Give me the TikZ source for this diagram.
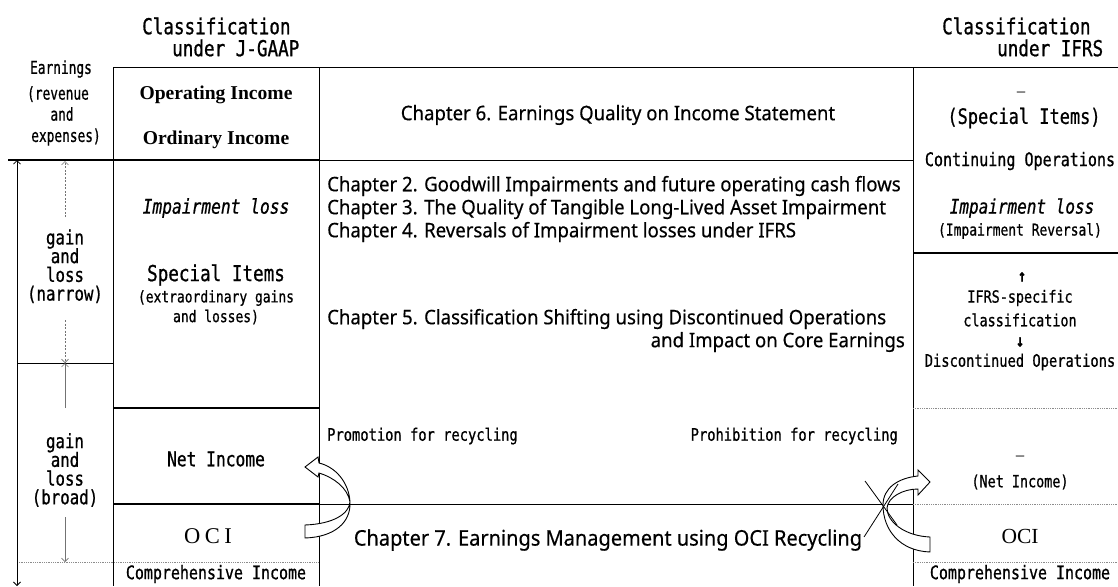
\documentclass[tikz,border=0pt]{standalone}
\usepackage{fontspec}
\usetikzlibrary{arrows.meta}
\setmainfont{Liberation Serif}
\newfontfamily\gothic[FakeStretch=0.8,FakeBold=0.8]{DejaVu Sans Mono}
\newfontfamily\gothicnarrow[FakeStretch=0.72,FakeBold=0.8]{DejaVu Sans Mono}
\newfontfamily\chapfont[FakeStretch=0.93,FakeBold=0.4]{Noto Sans}
\newcommand\gsz[1]{\fontsize{#1}{#1}\selectfont}

\begin{document}
\begin{tikzpicture}[x=1pt,y=-1pt,
  rule/.style={line width=0.8pt},
  heavyrule/.style={line width=2.6pt},
  faintrule/.style={line width=0.8pt, black!45, densely dotted},
  guide/.style={line width=0.7pt, black!55},
  guidedash/.style={guide, dash pattern=on 2pt off 1.5pt},
  barb/.style={-{Straight Barb[length=3.5pt,width=7pt]}},
  barbs/.style={{Straight Barb[length=3.5pt,width=7pt]}-{Straight Barb[length=3.5pt,width=7pt]}},
  lbl/.style={inner sep=0pt, align=center},
  chap/.style={inner sep=0pt, font=\chapfont\gsz{20}},
  ribbon/.style={line width=0.9pt, fill=white, line join=miter},
]
\useasboundingbox (0,0) rectangle (1118,586);

% ---------- column headings ----------
\node[lbl, anchor=west, font=\gothic\gsz{22}] (jgaap1) at (142,26) {Classification};
\node[lbl, anchor=west, font=\gothic\gsz{22}] (jgaap2) at (172,48) {under J-GAAP};
\node[lbl, anchor=west, font=\gothic\gsz{22}] (ifrs1) at (942,26) {Classification};
\node[lbl, anchor=west, font=\gothic\gsz{22}] (ifrs2) at (997,48) {under IFRS};

% ---------- grid ----------
\draw[rule] (113,67) -- (1118,67);
\draw[rule] (113,67) -- (113,586);
\draw[rule] (319,67) -- (319,586);
\draw[rule] (913,67) -- (913,586);
\draw[heavyrule] (8,160) -- (319,160);
\draw[rule] (319,160) -- (913,160);
\draw[heavyrule] (913,253) -- (1118,253);
\draw[rule] (17,363) -- (113,363);
\draw[heavyrule] (113,408) -- (319,408);
\draw[faintrule] (913,408) -- (1118,408);
\draw[heavyrule] (113,504) -- (319,504);
\draw[rule] (319,504) -- (913,504);
\draw[faintrule] (913,504) -- (1118,504);
\draw[faintrule] (17,562) -- (319,562);
\draw[faintrule] (913,562) -- (1118,562);

% ---------- range arrows of the left margin ----------
\coordinate (topL) at (17,160);
\coordinate (botL) at (17,586);
\draw[rule, barbs] (topL) -- (botL);
\coordinate (n1) at (65,161);
\coordinate (n2) at (65,217);
\coordinate (n3) at (65,320);
\coordinate (n4) at (65,363);
\coordinate (b1) at (65,363);
\coordinate (b2) at (65,408);
\coordinate (b3) at (65,517);
\coordinate (b4) at (65,562);
\draw[guidedash, barb] (n2) -- (n1);
\draw[guidedash, barb] (n3) -- (n4);
\draw[guide, barb] (b2) -- (b1);
\draw[guide, barb] (b3) -- (b4);

\node[lbl, font=\gothicnarrow\gsz{17.8}] (earn1) at (61,69) {Earnings};
\node[lbl, font=\gothicnarrow\gsz{17.8}] (earn2) at (58,94) {(revenue};
\node[lbl, font=\gothicnarrow\gsz{17.8}] (earn3) at (62,114) {and};
\node[lbl, font=\gothicnarrow\gsz{17.8}] (earn4) at (66,137) {expenses)};

\node[lbl, font=\gothic\gsz{19.7}, text depth=0pt] (narrow) at (65,265)
  {gain\\[-1pt]and\\[-1pt]loss\\[-1pt](narrow)};
\node[lbl, font=\gothic\gsz{19.7}] (broad) at (65,470)
  {gain\\[-1pt]and\\[-1pt]loss\\[-1pt](broad)};

% ---------- J-GAAP column ----------
\node[lbl, font=\bfseries\gsz{19.6}] (opinc) at (216,95) {Operating Income};
\node[lbl, font=\bfseries\gsz{19.6}] (ordinc) at (216,140) {Ordinary Income};
\node[lbl, font=\gothic\itshape\gsz{20.3}] (implossL) at (216,208) {Impairment loss};
\node[lbl, font=\gothic\gsz{22}] (special) at (216,275) {Special Items};
\node[lbl, font=\gothic\gsz{16.2}] (extra1) at (216,298) {(extraordinary gains};
\node[lbl, font=\gothic\gsz{16.2}] (extra2) at (216,317) {and losses)};
\node[lbl, font=\gothic\gsz{20.3}] (netinc) at (216,459) {Net Income};
\node[lbl, font=\gsz{22.5}] (ociL) at (208,536) {O\kern4.5pt C\kern4.5pt I};
\node[lbl, font=\gothic\gsz{18.7}] (compL) at (216,574) {Comprehensive Income};

% ---------- chapters ----------
\node[chap] (ch6) at (618,115) {Chapter 6. Earnings Quality on Income Statement};
\node[chap, anchor=west] (ch2) at (327,186) {Chapter 2. Goodwill Impairments and future operating cash flows};
\node[chap, anchor=west] (ch3) at (327,209) {Chapter 3. The Quality of Tangible Long-Lived Asset Impairment};
\node[chap, anchor=west] (ch4) at (327,232) {Chapter 4. Reversals of Impairment losses under IFRS};
\node[chap, anchor=west] (ch5a) at (327,319) {Chapter 5. Classification Shifting using Discontinued Operations};
\node[chap, anchor=east] (ch5b) at (905,342) {and Impact on Core Earnings};
\node[chap, font=\chapfont\gsz{21.5}] (ch7) at (608,540) {Chapter 7. Earnings Management using OCI Recycling};

\node[lbl, anchor=west, font=\gothic\gsz{17.2}] (promo) at (327,436) {Promotion for recycling};
\node[lbl, anchor=east, font=\gothic\gsz{17.2}] (prohib) at (898,436) {Prohibition for recycling};

% ---------- IFRS column ----------
\node[lbl, font=\gothic\gsz{17}, text=black!60] (dashS) at (1021,94) {—};
\node[lbl, font=\gothic\gsz{21.2}] (specR) at (1024,118) {(Special Items)};
\node[lbl, font=\gothic\gsz{18.8}] (contop) at (1020,161) {Continuing Operations};
\node[lbl, font=\gothic\itshape\gsz{20}] (implossR) at (1022,208) {Impairment loss};
\node[lbl, font=\gothic\gsz{16.2}] (reversal) at (1020,231) {(Impairment Reversal)};
\node[lbl, font=\gothic\bfseries\gsz{17}] (upar) at (1022,277) {↑};
\node[lbl, font=\gothic\gsz{16.8}] (ifrsspec) at (1020,298) {IFRS-specific};
\node[lbl, font=\gothic\gsz{16.8}] (classif) at (1020,320) {classification};
\node[lbl, font=\gothic\bfseries\gsz{17}] (dnar) at (1020,342) {↓};
\node[lbl, font=\gothic\gsz{17.2}] (discop) at (1020,362) {Discontinued Operations};
\node[lbl, font=\gothic\gsz{17}, text=black!60] (dashN) at (1020,458) {—};
\node[lbl, font=\gothic\gsz{16.8}] (netR) at (1020,482) {(Net Income)};
\node[lbl, font=\gsz{21.5}] (ociR) at (1020,536) {OCI};
\node[lbl, font=\gothic\gsz{18.7}] (compR) at (1020,574) {Comprehensive Income};

% ---------- recycling arrows ----------
% OCI recycled into net income (J-GAAP)
\draw[ribbon] (305,525) -- (305,538)
  .. controls (335,537) and (351,522) .. (350,502)
  .. controls (349,483) and (336,467) .. (319,463)
  -- (318,457) -- (305,467) -- (318,477) -- (319,473)
  .. controls (333,477) and (348,488) .. (350,502)
  .. controls (349,514) and (333,524) .. (305,525) -- cycle;
% recycling not allowed (IFRS)
\draw[ribbon] (930,552)
  .. controls (900,551) and (883,530) .. (883,505)
  .. controls (883,488) and (898,478) .. (918,476)
  -- (918,470) -- (930,482) -- (918,495) -- (918,489)
  .. controls (903,489) and (888,497) .. (887,508)
  .. controls (887,522) and (905,536) .. (930,537) -- cycle;
\coordinate (x1) at (865,481);
\coordinate (x2) at (897,525);
\coordinate (x3) at (864,537);
\coordinate (x4) at (898,484);
\draw[rule] (x1) -- (x2);
\draw[rule] (x3) -- (x4);
\end{tikzpicture}
\end{document}
